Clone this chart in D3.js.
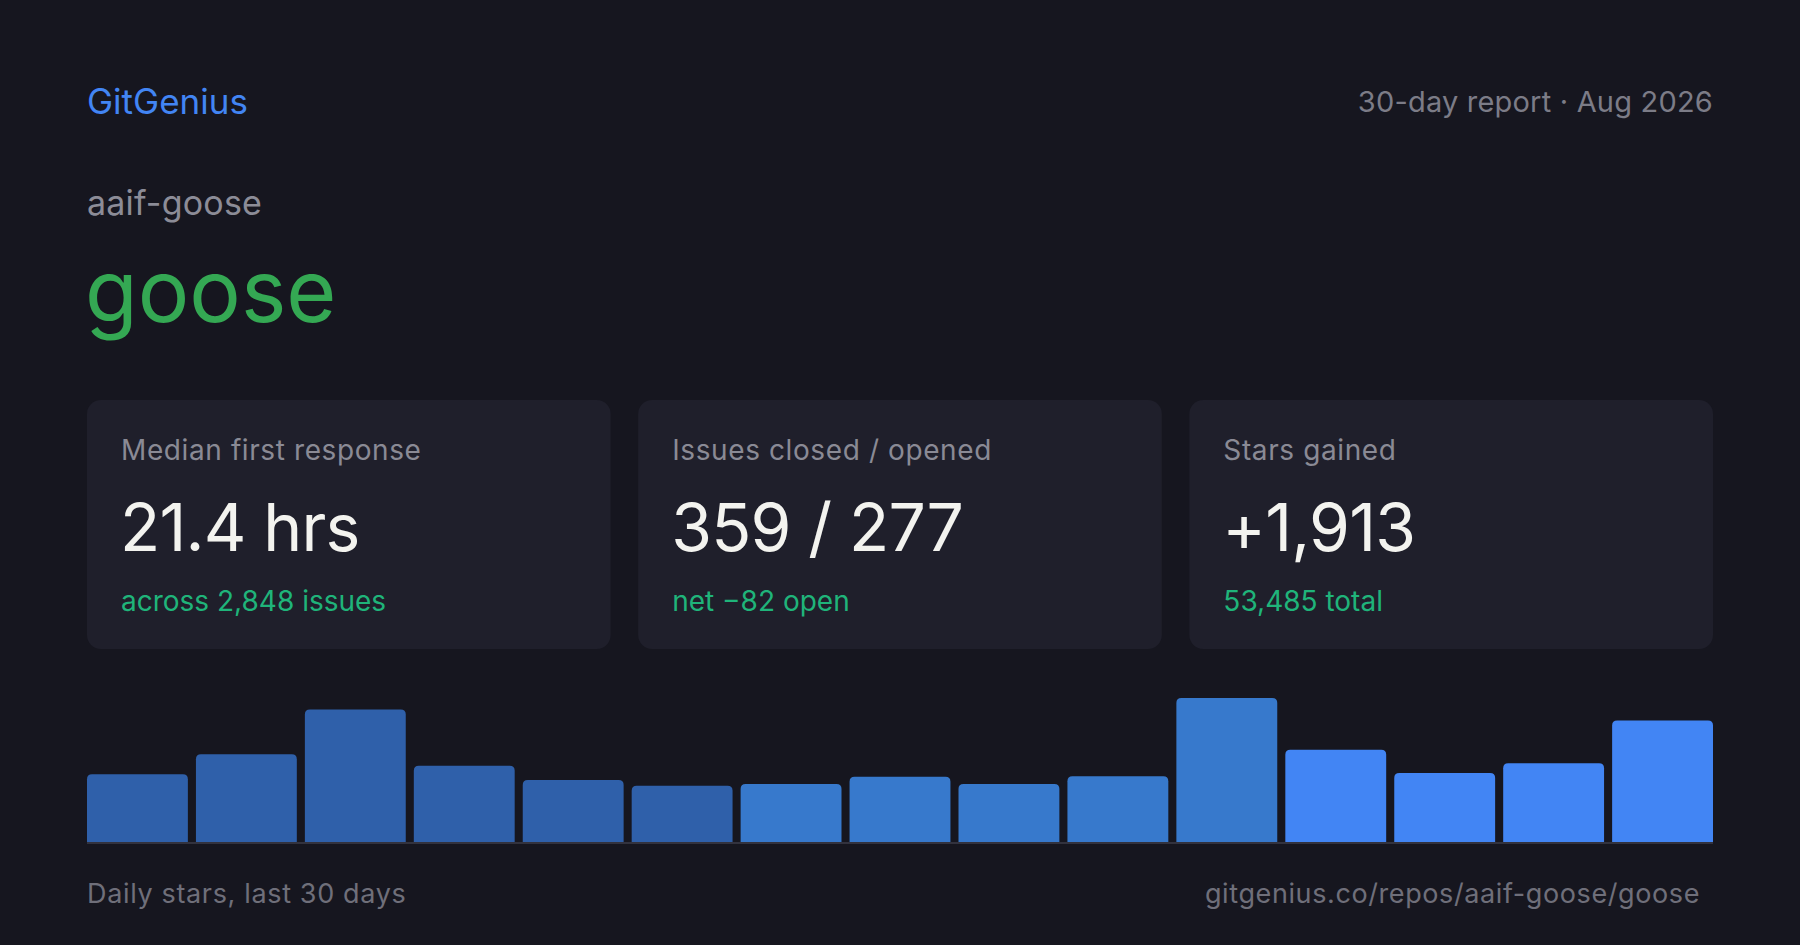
<!DOCTYPE html>
<html>
<head>
<meta charset="utf-8">
<script src="https://cdn.jsdelivr.net/npm/d3@7"></script>
<style>
  html, body { margin: 0; padding: 0; background: #16161f; }
  svg { display: block; }
  text { font-family: Inter, "Noto Sans", sans-serif; }
</style>
</head>
<body>
<div id="card"></div>
<script>
'use strict';

// report data
const brand = "GitGenius";
const reportLabel = "30-day report · Aug 2026";
const owner = "aaif-goose";
const repo = "goose";
const statLabels = ["Median first response", "Issues closed / opened", "Stars gained"];
const statValues = ["21.4 hrs", "359 / 277", "+1,913"];
const statNotes = ["across 2,848 issues", "net \u221282 open", "53,485 total"];
const starBuckets = [105, 136, 205, 118, 96, 87, 90, 101, 90, 102, 223, 143, 107, 122, 188];
const chartCaption = "Daily stars, last 30 days";
const repoUrl = "gitgenius.co/repos/aaif-goose/goose";

const W = 1800, H = 945;
const left = 87, right = 1713;

const svg = d3.select("#card")
  .append("svg")
  .attr("width", W)
  .attr("height", H);

svg.append("rect")
  .attr("width", W)
  .attr("height", H)
  .attr("fill", "#16161f");

// header
svg.append("text")
  .attr("x", left).attr("y", 114)
  .attr("font-size", 35)
  .attr("fill", "#4285f4")
  .text(brand);

svg.append("text")
  .attr("x", right).attr("y", 112)
  .attr("text-anchor", "end")
  .attr("font-size", 29)
  .attr("letter-spacing", 0.2)
  .attr("fill", "#7c7c87")
  .text(reportLabel);

svg.append("text")
  .attr("x", left).attr("y", 215)
  .attr("font-size", 34)
  .attr("letter-spacing", 0.2)
  .attr("fill", "#8c8c97")
  .text(owner);

svg.append("text")
  .attr("x", left - 2).attr("y", 322)
  .attr("font-size", 86)
  .attr("fill", "#34a853")
  .text(repo);

// stat cards
const cardX = d3.scaleBand()
  .domain(d3.range(statLabels.length))
  .range([left, right])
  .paddingInner(0.05);

const cards = svg.append("g")
  .selectAll("g")
  .data(statLabels)
  .enter().append("g")
  .attr("transform", (d, i) => `translate(${cardX(i)},400)`);

cards.append("rect")
  .attr("width", cardX.bandwidth())
  .attr("height", 249)
  .attr("rx", 14)
  .attr("fill", "#1f1f2b");

cards.append("text")
  .attr("x", 34).attr("y", 60)
  .attr("font-size", 28)
  .attr("letter-spacing", 0.6)
  .attr("fill", "#8a8a95")
  .text(d => d);

cards.append("text")
  .attr("x", 33).attr("y", 151)
  .attr("font-size", 66)
  .attr("letter-spacing", -0.8)
  .attr("fill", "#f3f3ef")
  .text((d, i) => statValues[i]);

cards.append("text")
  .attr("x", 34).attr("y", 211)
  .attr("font-size", 28)
  .attr("fill", "#1fb47a")
  .text((d, i) => statNotes[i]);

// star bars
const baseY = 842;
const x = d3.scaleBand()
  .domain(d3.range(starBuckets.length))
  .range([left, right])
  .paddingInner(0.074);

const y = d3.scaleLinear()
  .domain([0, d3.max(starBuckets)])
  .range([baseY, 698]);

const tone = d3.scaleThreshold()
  .domain([6, 11])
  .range(["#2f60aa", "#3779cc", "#4285f4"]);

function topRounded(x0, y0, w, h, r) {
  r = Math.min(r, h, w / 2);
  return `M${x0},${y0 + h}V${y0 + r}Q${x0},${y0} ${x0 + r},${y0}` +
         `H${x0 + w - r}Q${x0 + w},${y0} ${x0 + w},${y0 + r}V${y0 + h}Z`;
}

svg.append("g")
  .selectAll("path")
  .data(starBuckets)
  .enter().append("path")
  .attr("d", (d, i) => topRounded(x(i), y(d), x.bandwidth(), baseY - y(d), 5))
  .attr("fill", (d, i) => tone(i));

svg.append("rect")
  .attr("x", left).attr("y", baseY)
  .attr("width", right - left)
  .attr("height", 2)
  .attr("fill", "#32323e");

// footer
svg.append("text")
  .attr("x", left).attr("y", 903)
  .attr("font-size", 27)
  .attr("letter-spacing", 0.65)
  .attr("fill", "#6f6f7a")
  .text(chartCaption);

svg.append("text")
  .attr("x", 1700).attr("y", 903)
  .attr("text-anchor", "end")
  .attr("font-size", 27)
  .attr("letter-spacing", 0.6)
  .attr("fill", "#6f6f7a")
  .text(repoUrl);
</script>
</body>
</html>
